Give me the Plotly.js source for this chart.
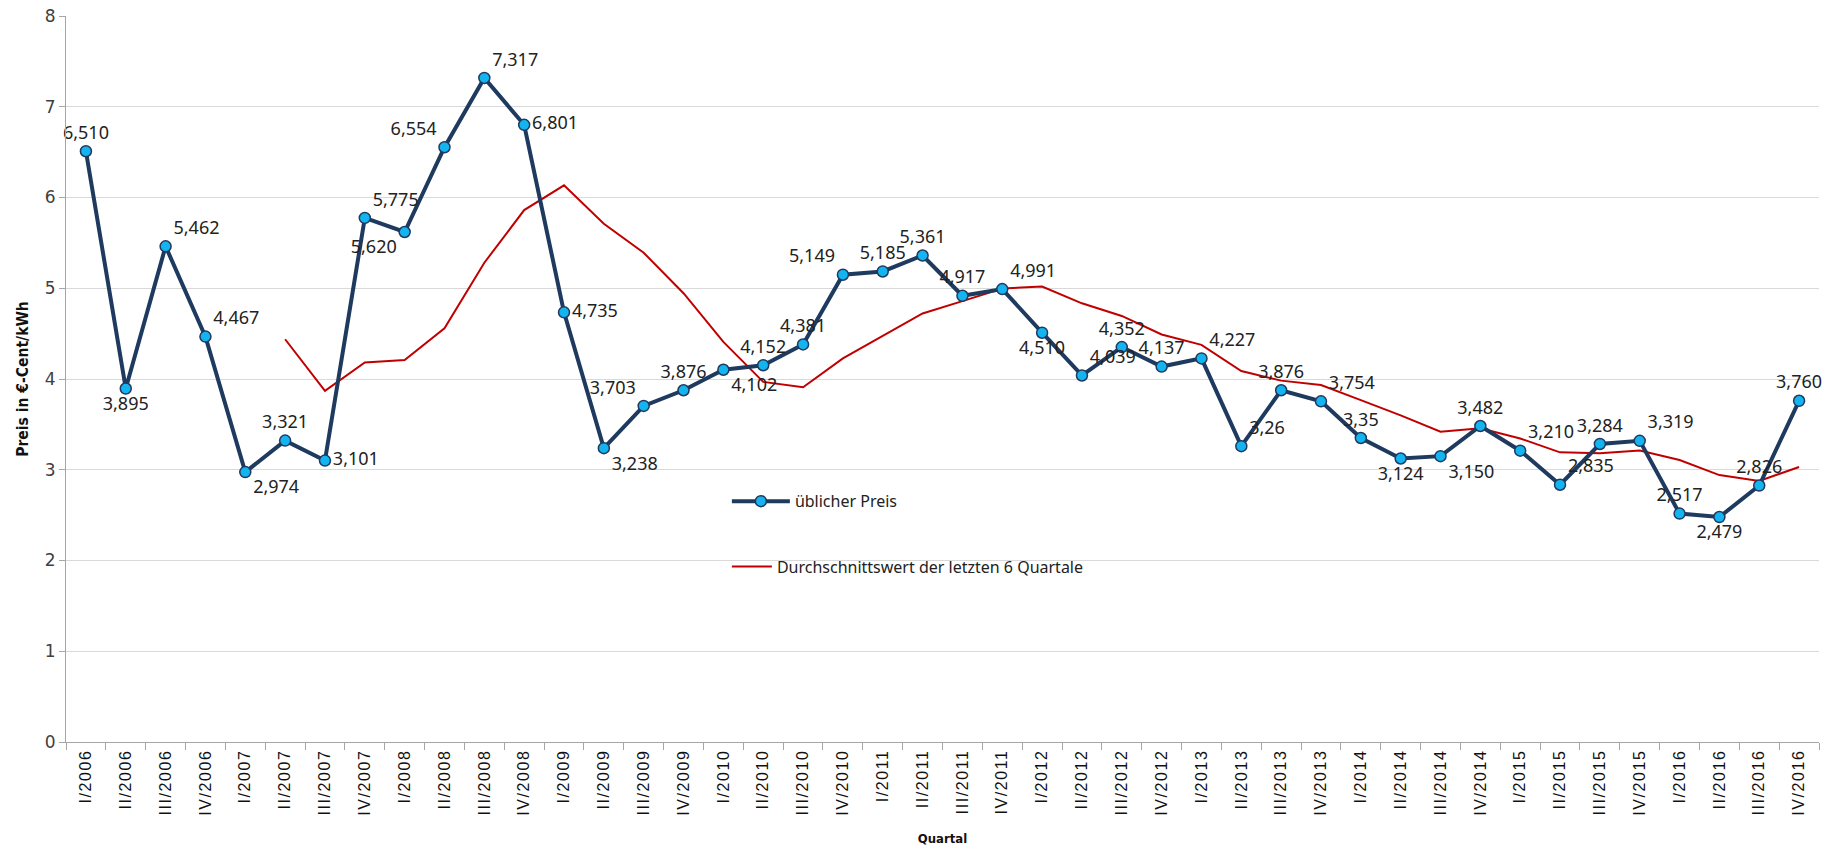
<!DOCTYPE html>
<html>
<head>
<meta charset="utf-8">
<script src="https://cdn.plot.ly/plotly-3.0.1.min.js"></script>
<style>
  body { margin: 0; background: #fff; }
  .xtick text { letter-spacing: 1.6px; }
</style>
</head>
<body>
<div id="preisChart" style="width:1827px;height:848px;"></div>
<script>
const quartale = [
    'I/2006', 'II/2006', 'III/2006', 'IV/2006',
    'I/2007', 'II/2007', 'III/2007', 'IV/2007',
    'I/2008', 'II/2008', 'III/2008', 'IV/2008',
    'I/2009', 'II/2009', 'III/2009', 'IV/2009',
    'I/2010', 'II/2010', 'III/2010', 'IV/2010',
    'I/2011', 'II/2011', 'III/2011', 'IV/2011',
    'I/2012', 'II/2012', 'III/2012', 'IV/2012',
    'I/2013', 'II/2013', 'III/2013', 'IV/2013',
    'I/2014', 'II/2014', 'III/2014', 'IV/2014',
    'I/2015', 'II/2015', 'III/2015', 'IV/2015',
    'I/2016', 'II/2016', 'III/2016', 'IV/2016'
];

// üblicher Preis (€-Cent/kWh)
const preis = [
    6.510, 3.895, 5.462, 4.467,
    2.974, 3.321, 3.101, 5.775,
    5.620, 6.554, 7.317, 6.801,
    4.735, 3.238, 3.703, 3.876,
    4.102, 4.152, 4.381, 5.149,
    5.185, 5.361, 4.917, 4.991,
    4.510, 4.039, 4.352, 4.137,
    4.227, 3.26, 3.876, 3.754,
    3.35, 3.124, 3.150, 3.482,
    3.210, 2.835, 3.284, 3.319,
    2.517, 2.479, 2.826, 3.760
];

const preisText = [
    '6,510', '3,895', '5,462', '4,467',
    '2,974', '3,321', '3,101', '5,775',
    '5,620', '6,554', '7,317', '6,801',
    '4,735', '3,238', '3,703', '3,876',
    '4,102', '4,152', '4,381', '5,149',
    '5,185', '5,361', '4,917', '4,991',
    '4,510', '4,039', '4,352', '4,137',
    '4,227', '3,26', '3,876', '3,754',
    '3,35', '3,124', '3,150', '3,482',
    '3,210', '2,835', '3,284', '3,319',
    '2,517', '2,479', '2,826', '3,760'
];

// Durchschnittswert der letzten 6 Quartale
const durchschnitt = [
    null, null, null, null,
    null, 4.438, 3.870, 4.183,
    4.210, 4.558, 5.281, 5.861,
    6.134, 5.711, 5.391, 4.945,
    4.409, 3.968, 3.909, 4.227,
    4.474, 4.722, 4.858, 4.997,
    5.019, 4.834, 4.695, 4.491,
    4.376, 4.088, 3.982, 3.934,
    3.767, 3.599, 3.419, 3.456,
    3.345, 3.192, 3.181, 3.213,
    3.108, 2.941, 2.877, 3.031
];

// wo die Beschriftung am Punkt steht
const labelPositions = [
    'top center', 'bottom center', 'top right', 'top right',
    'bottom right', 'top center', 'middle right', 'top right',
    'bottom left', 'top left', 'top right', 'middle right',
    'middle right', 'bottom right', 'top left', 'top center',
    'bottom right', 'top center', 'top center', 'top left',
    'top center', 'top center', 'top center', 'top right',
    'bottom center', 'top right', 'top center', 'top center',
    'top right', 'top right', 'top center', 'top right',
    'top center', 'bottom center', 'bottom right', 'top center',
    'top right', 'top right', 'top center', 'top right',
    'top center', 'bottom center', 'top center', 'top center'
];

let avgTrace = {
    x: quartale,
    y: durchschnitt,
    name: 'Durchschnittswert der letzten 6 Quartale',
    type: 'scatter',
    mode: 'lines',
    line: { color: '#c00000', width: 2 },
    legend: 'legend2',
    hoverinfo: 'skip'
};

let preisTrace = {
    x: quartale,
    y: preis,
    name: 'üblicher Preis',
    type: 'scatter',
    mode: 'lines+markers+text',
    line: { color: '#1f3a5f', width: 4 },
    marker: { size: 11, color: '#13b4ef', line: { color: '#1f3a5f', width: 1.5 } },
    text: preisText,
    textposition: labelPositions,
    textfont: { family: 'Noto Sans, sans-serif', size: 18, color: '#222' },
    cliponaxis: false,
    hoverinfo: 'skip'
};

let legendFont = { family: 'Noto Sans, sans-serif', size: 16, color: '#222' };

let layout = {
    width: 1827,
    height: 848,
    margin: { l: 66, r: 8, t: 16, b: 106 },
    paper_bgcolor: '#fff',
    plot_bgcolor: '#fff',
    showlegend: true,
    xaxis: {
        type: 'category',
        range: [-0.5, 43.5],
        tickangle: -90,
        tickfont: { family: 'Liberation Sans, Arial, sans-serif', size: 16, color: '#111' },
        showline: true,
        linecolor: '#a6a6a6',
        linewidth: 1,
        ticks: 'outside',
        tickson: 'boundaries',
        ticklen: 7,
        tickcolor: '#a6a6a6',
        showgrid: false,
        title: {
            text: 'Quartal',
            font: { family: 'DejaVu Sans Condensed, Liberation Sans Narrow, sans-serif', size: 13, weight: 'bold', color: '#111' },
            standoff: 19
        }
    },
    yaxis: {
        range: [0, 8],
        dtick: 1,
        tickfont: { family: 'DejaVu Sans, Verdana, sans-serif', size: 17, color: '#404040' },
        showline: true,
        linecolor: '#a6a6a6',
        linewidth: 1,
        ticks: 'outside',
        ticklen: 6,
        tickcolor: '#a6a6a6',
        gridcolor: '#d9d9d9',
        gridwidth: 1,
        zeroline: false,
        title: {
            text: 'Preis in €-Cent/kWh',
            font: { family: 'DejaVu Sans Condensed, Liberation Sans Narrow, sans-serif', size: 15.5, weight: 'bold', color: '#111' },
            standoff: 12
        }
    },
    legend: {
        x: 0.377,
        y: 0.355,
        xanchor: 'left',
        yanchor: 'top',
        itemwidth: 58,
        bgcolor: 'rgba(0,0,0,0)',
        font: legendFont
    },
    legend2: {
        x: 0.377,
        y: 0.265,
        xanchor: 'left',
        yanchor: 'top',
        itemwidth: 40,
        bgcolor: 'rgba(0,0,0,0)',
        font: legendFont
    }
};

Plotly.newPlot('preisChart', [avgTrace, preisTrace], layout, { displayModeBar: false, staticPlot: true });
</script>
</body>
</html>
